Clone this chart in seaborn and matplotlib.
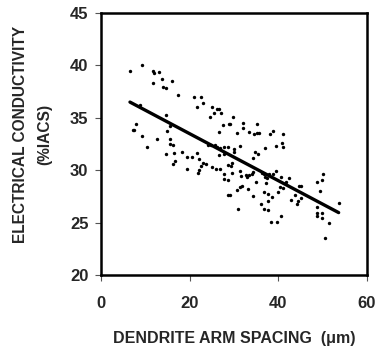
import matplotlib
matplotlib.use("Agg")
import matplotlib.pyplot as plt
import seaborn as sns
import pandas as pd

# Dendrite arm spacing (um)
spacing = [6.55, 9.15, 11.81, 12.04, 13.10, 11.81, 13.71, 16.10, 14.07, 14.75,
           17.32, 21.00, 22.52, 23.10, 21.75, 25.00, 26.13, 26.58, 25.45, 27.03,
           24.62, 27.62, 28.97, 26.72, 29.88, 29.13, 32.14, 35.16, 32.07, 30.65,
           33.42, 34.49, 35.30, 35.61, 38.01, 38.69, 41.10, 28.61, 31.39, 30.04,
           30.04, 37.04, 39.52, 40.81, 40.94, 34.78, 35.52, 34.39, 8.74, 14.68,
           7.84, 7.29, 7.52, 9.19, 10.32, 15.58, 14.79, 12.71, 15.65, 15.65,
           16.19, 14.61, 16.40, 18.34, 19.35, 20.55, 21.73, 22.13, 16.60, 16.31,
           22.92, 22.63, 23.76, 22.20, 21.79, 19.35, 25.00, 26.02, 26.76, 24.10,
           24.84, 25.63, 26.26, 26.87, 27.78, 26.65, 27.78, 28.75, 29.65, 29.29,
           29.65, 27.85, 27.85, 28.57, 28.68, 29.18, 31.39, 31.62, 32.68, 32.97,
           33.36, 34.03, 34.39, 36.25, 36.70, 35.00, 37.94, 37.04, 37.42, 38.69,
           39.52, 37.33, 40.65, 41.71, 42.30, 40.42, 41.03, 30.78, 31.39, 31.78,
           33.27, 34.39, 36.88, 37.65, 38.55, 37.78, 39.91, 42.75, 43.65, 44.72,
           45.17, 45.17, 44.42, 44.20, 35.98, 36.88, 37.65, 30.87, 40.49, 39.68,
           38.32, 48.62, 49.84, 49.98, 49.39, 48.71, 48.71, 48.71, 49.84, 49.84,
           51.42, 50.52, 53.59]

# Electrical conductivity (%IACS)
conductivity = [39.43, 40.05, 39.49, 39.27, 39.37, 38.32, 38.73, 38.54, 37.97, 37.84,
                37.14, 37.01, 37.01, 36.37, 36.03, 35.99, 35.84, 35.87, 35.42, 35.42,
                35.10, 34.31, 34.41, 33.65, 35.04, 34.44, 34.50, 34.44, 34.03, 33.51,
                33.65, 33.45, 33.58, 33.51, 33.45, 33.77, 33.42, 32.24, 32.34, 32.02,
                31.74, 32.15, 32.31, 32.62, 32.21, 31.70, 31.57, 31.22, 36.23, 35.23,
                34.37, 33.86, 33.80, 33.23, 32.18, 34.25, 33.72, 33.01, 33.01, 32.55,
                32.43, 31.57, 31.64, 31.74, 31.24, 31.24, 31.62, 31.10, 30.84, 30.64,
                30.69, 30.43, 30.64, 30.00, 29.76, 30.12, 30.27, 30.12, 30.16, 32.43,
                32.39, 32.39, 32.19, 32.15, 32.19, 31.45, 31.53, 30.52, 30.69, 30.38,
                29.76, 29.67, 29.14, 29.07, 27.61, 27.61, 29.95, 29.50, 29.57, 29.38,
                29.57, 29.64, 29.83, 29.71, 29.67, 28.93, 29.64, 29.41, 29.26, 29.67,
                29.90, 28.78, 29.41, 28.87, 29.31, 28.40, 28.30, 28.11, 28.45, 28.52,
                28.26, 27.57, 27.98, 27.73, 27.50, 27.09, 27.92, 27.19, 27.66, 28.55,
                28.55, 27.35, 27.09, 26.77, 26.77, 26.30, 26.23, 26.30, 25.63, 25.11,
                25.06, 28.93, 29.09, 29.64, 28.07, 26.55, 25.97, 25.63, 25.92, 25.44,
                24.96, 23.53, 26.90]

# Trend line end points
trend_x = [6.55, 53.6]
trend_y = [36.5, 25.97]

x_ticks = [0, 20, 40, 60]
y_ticks = [20, 25, 30, 35, 40, 45]

sns.set_style("white")
plt.rcParams['font.family'] = ['Liberation Sans', 'DejaVu Sans']
plt.rcParams['font.weight'] = 'bold'

df = pd.DataFrame({"spacing": spacing, "conductivity": conductivity})
trend = pd.DataFrame({"x": trend_x, "y": trend_y})

fig = plt.figure(figsize=(3.78, 3.48), dpi=100)
ax = fig.add_axes([0.267, 0.209, 0.704, 0.754])

sns.scatterplot(data=df, x="spacing", y="conductivity", ax=ax, color="black",
                s=6, marker="o", linewidth=0, zorder=3)
sns.lineplot(data=trend, x="x", y="y", ax=ax, color="black", linewidth=2.4,
             zorder=4)

ax.set_xlim(0, 60)
ax.set_ylim(20, 45)
ax.set_xticks(x_ticks)
ax.set_yticks(y_ticks)
ax.set_xticklabels([str(v) for v in x_ticks], fontsize=12, fontweight='bold')
ax.set_yticklabels([str(v) for v in y_ticks], fontsize=12, fontweight='bold')
ax.tick_params(axis='both', direction='out', length=4, width=0.8,
               color='#555555', bottom=True, left=True)
ax.tick_params(axis='x', pad=11)
ax.tick_params(axis='y', pad=5)

for s in ax.spines.values():
    s.set_visible(True)
    s.set_color('black')
    s.set_linewidth(1.8)

ax.set_xlabel("DENDRITE ARM SPACING  (\u03bcm)", fontsize=11.5,
              fontweight='bold', labelpad=14)
ax.set_ylabel("ELECTRICAL CONDUCTIVITY\n(%IACS)", fontsize=11.2,
              fontweight='bold', labelpad=13, linespacing=1.75)
ax.yaxis.label.set_y(0.535)

fig.savefig("out.png", dpi=100)
